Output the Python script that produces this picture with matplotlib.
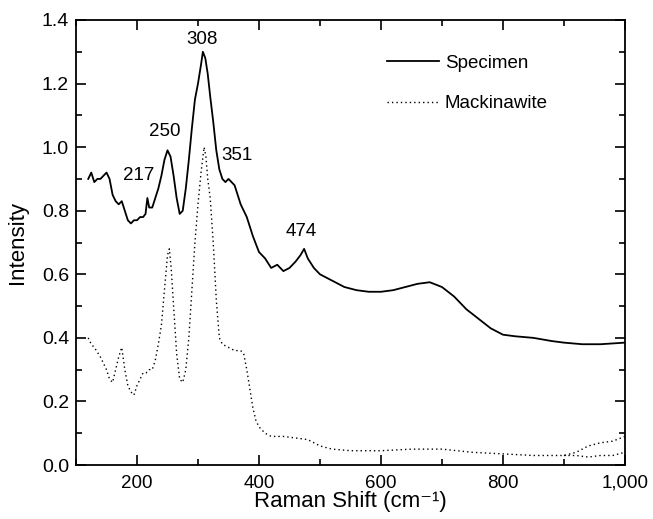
import matplotlib
matplotlib.use("Agg")
import matplotlib.pyplot as plt
from matplotlib.ticker import MultipleLocator, FuncFormatter

plt.rcParams["font.family"] = ["Liberation Sans", "DejaVu Sans"]

# specimen spectrum (solid line)
spec_x = [120, 125, 130, 135, 140, 145, 150, 155, 160, 165, 170, 175, 180, 185,
          190, 195, 200, 205, 210, 214, 217, 220, 225, 230, 235, 240, 245, 250,
          255, 260, 265, 270, 275, 280, 285, 290, 295, 300, 305, 308, 312, 316,
          320, 325, 330, 335, 340, 345, 350, 355, 360, 365, 370, 380, 390, 400,
          410, 420, 430, 440, 450, 460, 468, 474, 480, 490, 500, 520, 540, 560,
          580, 600, 620, 640, 660, 680, 700, 720, 740, 760, 780, 800, 820, 850,
          880, 900, 930, 960, 1000]
spec_y = [0.90, 0.92, 0.89, 0.90, 0.90, 0.91, 0.92, 0.90, 0.85, 0.83, 0.82, 0.83,
          0.80, 0.77, 0.76, 0.77, 0.77, 0.78, 0.78, 0.79, 0.84, 0.81, 0.81, 0.84,
          0.87, 0.91, 0.96, 0.99, 0.97, 0.91, 0.84, 0.79, 0.80, 0.87, 0.96, 1.06,
          1.15, 1.20, 1.26, 1.30, 1.28, 1.23, 1.16, 1.08, 0.99, 0.93, 0.90, 0.89,
          0.90, 0.89, 0.88, 0.85, 0.82, 0.78, 0.72, 0.67, 0.65, 0.62, 0.63, 0.61,
          0.62, 0.64, 0.66, 0.68, 0.65, 0.62, 0.60, 0.58, 0.56, 0.55, 0.545, 0.545,
          0.55, 0.56, 0.57, 0.575, 0.56, 0.53, 0.49, 0.46, 0.43, 0.41, 0.405, 0.40,
          0.39, 0.385, 0.38, 0.38, 0.385]

# mackinawite reference spectrum (dotted line)
mack_x = [120, 125, 130, 140, 150, 155, 160, 165, 170, 175, 180, 185, 190, 195,
          200, 205, 210, 215, 220, 225, 230, 235, 240, 245, 250, 253, 256, 260,
          265, 270, 275, 280, 285, 290, 295, 300, 305, 310, 313, 316, 320, 325,
          330, 335, 340, 350, 360, 370, 375, 380, 385, 390, 395, 400, 410, 420,
          440, 460, 480, 500, 520, 550, 600, 650, 700, 750, 800, 850, 880, 900,
          920, 940, 960, 980, 1000]
mack_y = [0.40, 0.38, 0.37, 0.34, 0.30, 0.27, 0.26, 0.30, 0.34, 0.37, 0.30, 0.25,
          0.23, 0.22, 0.25, 0.27, 0.29, 0.29, 0.30, 0.30, 0.33, 0.38, 0.44, 0.55,
          0.66, 0.68, 0.62, 0.50, 0.35, 0.27, 0.26, 0.30, 0.40, 0.55, 0.70, 0.82,
          0.92, 1.00, 0.97, 0.90, 0.84, 0.70, 0.52, 0.40, 0.38, 0.37, 0.36, 0.36,
          0.35, 0.30, 0.24, 0.18, 0.14, 0.12, 0.10, 0.09, 0.09, 0.085, 0.08, 0.06,
          0.05, 0.045, 0.045, 0.05, 0.05, 0.04, 0.035, 0.03, 0.03, 0.03, 0.04,
          0.06, 0.07, 0.075, 0.09]
# second (lower) dotted trace at the high-shift end
mack2_x = [900, 920, 940, 960, 980, 1000]
mack2_y = [0.03, 0.03, 0.025, 0.03, 0.03, 0.04]

# peak labels
peak_labels = ["217", "250", "308", "351", "474"]
peak_x = [203, 246, 307, 364, 470]
peak_y = [0.91, 1.05, 1.34, 0.975, 0.735]

fig = plt.figure(figsize=(6.53, 5.19), dpi=100)
ax = fig.add_axes([0.1164, 0.104, 0.8406, 0.8575])

ax.plot(spec_x, spec_y, color="black", lw=1.3, label="Specimen")
ax.plot(mack_x, mack_y, color="black", lw=1.0, ls=(0, (1, 2.2)), label="Mackinawite")
ax.plot(mack2_x, mack2_y, color="black", lw=1.0, ls=(0, (1, 2.2)))

for t, px, py in zip(peak_labels, peak_x, peak_y):
    ax.text(px, py, t, ha="center", va="center", fontsize=13.5)

ax.set_xlim(100, 1000)
ax.set_ylim(0, 1.4)
ax.xaxis.set_major_locator(MultipleLocator(200))
ax.xaxis.set_minor_locator(MultipleLocator(100))
ax.yaxis.set_major_locator(MultipleLocator(0.2))
ax.yaxis.set_minor_locator(MultipleLocator(0.1))
ax.xaxis.set_major_formatter(FuncFormatter(lambda v, p: f"{v:,.0f}"))
ax.yaxis.set_major_formatter(FuncFormatter(lambda v, p: f"{v:.1f}"))
ax.tick_params(which="both", direction="in", top=True, right=True,
               labelsize=14, width=1.2)
ax.tick_params(which="major", length=7)
ax.tick_params(which="minor", length=4)
ax.tick_params(axis="x", which="major", pad=7, labelsize=13.5)
ax.tick_params(axis="y", which="major", pad=5)
for s in ax.spines.values():
    s.set_linewidth(1.3)

ax.set_xlabel("Raman Shift (cm\u207b\u00b9)", fontsize=16)
ax.xaxis.set_label_coords(0.5, -0.095)
ax.xaxis.label.set_va("baseline")
ax.set_ylabel("Intensity", fontsize=16, labelpad=10)

ax.legend(loc="upper right", bbox_to_anchor=(0.89, 0.96), frameon=False,
          fontsize=13.5, handlelength=2.8, labelspacing=1.25, handletextpad=0.3)

fig.savefig("out.png", dpi=100)
